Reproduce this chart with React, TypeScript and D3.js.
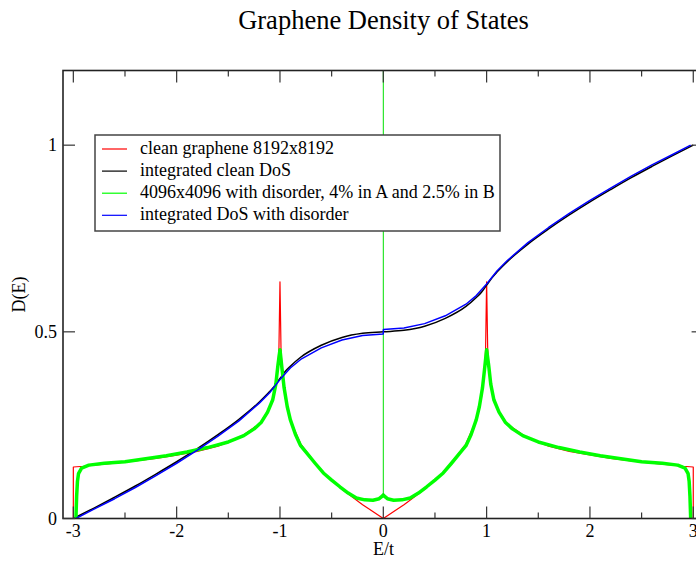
import React from "react";
import * as d3 from "d3";

// ---------- data ----------
const cleanDos: [number, number][] = [
  [-3, 0], [-3, 0.138], [-2.9, 0.14], [-2.8, 0.143], [-2.6, 0.148], [-2.4, 0.154], [-2.2, 0.161],
  [-2.0, 0.17], [-1.8, 0.18], [-1.6, 0.194], [-1.4, 0.215], [-1.2, 0.253], [-1.1, 0.296],
  [-1.05, 0.342], [-1.02, 0.407], [-1.01, 0.458], [-1.0, 0.634], [-0.99, 0.453], [-0.98, 0.398],
  [-0.95, 0.324], [-0.9, 0.264], [-0.8, 0.2], [-0.6, 0.127], [-0.4, 0.078], [-0.2, 0.037],
  [0, 0], [0.2, 0.037], [0.4, 0.078], [0.6, 0.127], [0.8, 0.2], [0.9, 0.264], [0.95, 0.324],
  [0.98, 0.398], [0.99, 0.453], [1.0, 0.634], [1.01, 0.458], [1.02, 0.407], [1.05, 0.342],
  [1.1, 0.296], [1.2, 0.253], [1.4, 0.215], [1.6, 0.194], [1.8, 0.18], [2.0, 0.17], [2.2, 0.161],
  [2.4, 0.154], [2.6, 0.148], [2.8, 0.143], [2.9, 0.14], [3, 0.138], [3, 0],
];

const cleanIntegrated: [number, number][] = [
  [-3, 0], [-2.8, 0.028], [-2.6, 0.057], [-2.4, 0.087], [-2.2, 0.119], [-2.0, 0.152],
  [-1.8, 0.187], [-1.6, 0.2245], [-1.4, 0.265], [-1.2, 0.312], [-1.1, 0.34], [-1.05, 0.356],
  [-1.0, 0.375], [-0.95, 0.394], [-0.9, 0.408], [-0.8, 0.432], [-0.6, 0.464], [-0.4, 0.485],
  [-0.2, 0.496], [0, 0.5], [0.2, 0.504], [0.4, 0.515], [0.6, 0.536], [0.8, 0.568], [0.9, 0.592],
  [0.95, 0.606], [1.0, 0.625], [1.05, 0.644], [1.1, 0.66], [1.2, 0.688], [1.4, 0.735],
  [1.6, 0.7755], [1.8, 0.813], [2.0, 0.848], [2.2, 0.881], [2.4, 0.913], [2.6, 0.943],
  [2.8, 0.972], [3, 1.0],
];

const disorderDos: [number, number][] = [
  [-2.975, 0], [-2.968, 0.06], [-2.96, 0.1], [-2.95, 0.12], [-2.92, 0.135], [-2.85, 0.143],
  [-2.7, 0.148], [-2.5, 0.152], [-2.3, 0.16], [-2.1, 0.168], [-1.9, 0.178], [-1.7, 0.19],
  [-1.5, 0.205], [-1.35, 0.222], [-1.25, 0.24], [-1.18, 0.258], [-1.12, 0.285], [-1.07, 0.318],
  [-1.04, 0.36], [-1.02, 0.41], [-1.0, 0.452], [-0.98, 0.4], [-0.96, 0.35], [-0.93, 0.3],
  [-0.9, 0.265], [-0.85, 0.225], [-0.8, 0.195], [-0.74, 0.175], [-0.66, 0.148], [-0.58, 0.122],
  [-0.5, 0.103], [-0.42, 0.085], [-0.34, 0.068], [-0.26, 0.055], [-0.18, 0.05], [-0.1, 0.049],
  [-0.04, 0.053], [-0.01, 0.06], [0, 0.063], [0.01, 0.06], [0.04, 0.053], [0.1, 0.049],
  [0.18, 0.05], [0.26, 0.055], [0.34, 0.068], [0.42, 0.085], [0.5, 0.103], [0.58, 0.122],
  [0.66, 0.148], [0.74, 0.175], [0.8, 0.195], [0.85, 0.225], [0.9, 0.265], [0.93, 0.3],
  [0.96, 0.35], [0.98, 0.4], [1.0, 0.452], [1.02, 0.41], [1.04, 0.36], [1.07, 0.318],
  [1.12, 0.285], [1.18, 0.258], [1.25, 0.24], [1.35, 0.222], [1.5, 0.205], [1.7, 0.19],
  [1.9, 0.178], [2.1, 0.168], [2.3, 0.16], [2.5, 0.152], [2.7, 0.148], [2.85, 0.143],
  [2.92, 0.135], [2.95, 0.12], [2.96, 0.1], [2.968, 0.06], [2.975, 0],
];

const disorderSpike: [number, number][] = [[0, 0.063], [0, 1.25]];

const disorderIntegrated: [number, number][] = [
  [-2.975, 0], [-2.8, 0.025], [-2.6, 0.053], [-2.4, 0.083], [-2.2, 0.115], [-2.0, 0.148],
  [-1.8, 0.183], [-1.6, 0.2205], [-1.4, 0.261], [-1.2, 0.309], [-1.1, 0.337], [-1.0, 0.372],
  [-0.9, 0.403], [-0.8, 0.426], [-0.6, 0.457], [-0.4, 0.478], [-0.2, 0.49], [-0.001, 0.494],
  [0.001, 0.506], [0.2, 0.51], [0.4, 0.522], [0.6, 0.543], [0.8, 0.574], [0.9, 0.597],
  [1.0, 0.628], [1.1, 0.663], [1.2, 0.691], [1.4, 0.739], [1.6, 0.7795], [1.8, 0.817],
  [2.0, 0.852], [2.2, 0.885], [2.4, 0.917], [2.6, 0.947], [2.8, 0.975], [2.975, 1.0],
];

const xMajorTicks = [-3, -2, -1, 0, 1, 2, 3];
const xMinorTicks = [-2.5, -1.5, -0.5, 0.5, 1.5, 2.5];
const yMajorTicks = [0, 0.5, 1];
const yTickLabels = ["0", "0.5", "1"];

const legendLabels = [
  "clean graphene 8192x8192",
  "integrated clean DoS",
  "4096x4096 with disorder, 4% in A and 2.5% in B",
  "integrated DoS with disorder",
];
const legendColors = ["#ff0000", "#000000", "#00ff00", "#0000ff"];

// ---------- layout ----------
const W = 696;
const H = 562;
const left = 63;
const right = 703.6;
const top = 70.5;
const bottom = 518.5;
const FONT =
  '"Liberation Serif", "Times New Roman", Times, "Nimbus Roman", "Nimbus Roman No9 L", FreeSerif, "Noto Serif", Tinos, "DejaVu Serif", serif';
const txt = { fontFamily: FONT };

export default function App() {
  const x = d3.scaleLinear().domain([-3.1, 3.1]).range([left, right]);
  const y = d3.scaleLinear().domain([0, 1.2]).range([bottom, top]);
  const line = d3
    .line<[number, number]>()
    .x((d) => x(d[0]))
    .y((d) => y(d[1]));
  const smooth = d3
    .line<[number, number]>()
    .x((d) => x(d[0]))
    .y((d) => y(d[1]))
    .curve(d3.curveMonotoneX);

  const majorLen = 12;
  const minorLen = 6;

  return (
    <svg
      width={W}
      height={H}
      style={{ position: "absolute", left: 0, top: 0, background: "#fff", fontFamily: FONT }}
    >
      <defs>
        <clipPath id="plotClip">
          <rect x={left} y={top} width={right - left} height={bottom - top} />
        </clipPath>
      </defs>
      <rect x={0} y={0} width={W} height={H} fill="#fff" />

      <text x={383.5} y={29} textAnchor="middle" fontSize={26.5} fill="#000" style={txt}>
        Graphene Density of States
      </text>

      <g clipPath="url(#plotClip)" fill="none" strokeLinejoin="round">
        <path d={line(cleanDos) || ""} stroke="#ff0000" strokeWidth={1.2} />
        <path d={smooth(cleanIntegrated) || ""} stroke="#000" strokeWidth={1.5} />
        <path d={line(disorderDos) || ""} stroke="#00ff00" strokeWidth={3.5} />
        <path d={line(disorderSpike) || ""} stroke="#00e000" strokeWidth={1} />
        <path d={line(disorderIntegrated) || ""} stroke="#0000ff" strokeWidth={1.5} />
      </g>

      {/* frame */}
      <rect
        x={left}
        y={top}
        width={right - left}
        height={bottom - top}
        fill="none"
        stroke="#222"
        strokeWidth={1.6}
      />

      {/* ticks */}
      <g stroke="#333" strokeWidth={1.2}>
        {xMajorTicks.map((t) => (
          <g key={"xM" + t}>
            <line x1={x(t)} x2={x(t)} y1={bottom} y2={bottom - majorLen} />
            <line x1={x(t)} x2={x(t)} y1={top} y2={top + majorLen} />
          </g>
        ))}
        {xMinorTicks.map((t) => (
          <g key={"xm" + t}>
            <line x1={x(t)} x2={x(t)} y1={bottom} y2={bottom - minorLen} />
            <line x1={x(t)} x2={x(t)} y1={top} y2={top + minorLen} />
          </g>
        ))}
        {yMajorTicks.map((t) => (
          <g key={"yM" + t}>
            <line x1={left} x2={left + majorLen} y1={y(t)} y2={y(t)} />
            <line x1={right} x2={right - majorLen} y1={y(t)} y2={y(t)} />
          </g>
        ))}
      </g>

      {xMajorTicks.map((t) => (
        <text key={"xl" + t} x={x(t)} y={537} textAnchor="middle" fontSize={18} fill="#000" style={txt}>
          {String(t)}
        </text>
      ))}
      {yMajorTicks.map((t, i) => (
        <text key={"yl" + t} x={57} y={y(t) + 6} textAnchor="end" fontSize={18} fill="#000" style={txt}>
          {yTickLabels[i]}
        </text>
      ))}

      <text x={383.5} y={555} textAnchor="middle" fontSize={18} fill="#000" style={txt}>
        E/t
      </text>
      <text
        transform={`translate(25,${(top + bottom) / 2}) rotate(-90)`}
        textAnchor="middle"
        fontSize={18}
        fill="#000"
        style={txt}
      >
        D(E)
      </text>

      {/* legend */}
      <rect x={95} y={135} width={405} height={96} fill="#fff" stroke="#444" strokeWidth={1.5} />
      {legendLabels.map((lab, i) => {
        const cy = 149 + i * 22.1;
        return (
          <g key={lab}>
            <line x1={102} x2={127} y1={cy} y2={cy} stroke={legendColors[i]} strokeWidth={1.2} />
            <text x={140} y={cy + 5} fontSize={18} fill="#000" style={txt}>
              {lab}
            </text>
          </g>
        );
      })}
    </svg>
  );
}
